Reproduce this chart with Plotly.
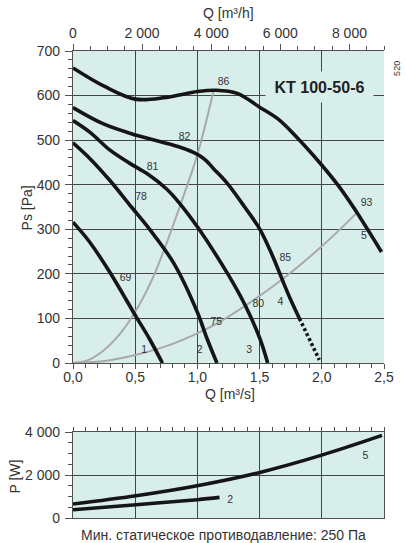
import numpy as np
import plotly.graph_objects as go

# ---------------- data ----------------
# fan curves  Q [m3/s] -> Ps [Pa]
c1_q = [0.0, 0.135, 0.295, 0.507, 0.613, 0.719]
c1_p = [316, 271, 204, 104, 55, 0]
c2_q = [0.0, 0.135, 0.295, 0.47, 0.613, 0.812, 0.998, 1.077, 1.157]
c2_p = [494, 459, 410, 350, 301, 223, 115, 55, 0]
c3_q = [0.0, 0.135, 0.295, 0.45, 0.6, 0.75, 0.852, 1.011, 1.25, 1.383, 1.502, 1.565]
c3_p = [544, 518, 478, 449, 424, 391, 360, 301, 197, 130, 55, 0]
c4_q = [0.0, 0.24, 0.51, 0.85, 1.0, 1.07, 1.13, 1.24, 1.38, 1.5, 1.6, 1.685, 1.75, 1.82]
c4_p = [573, 537, 511, 485, 468, 454, 436, 403, 350, 301, 243, 185, 142, 100]
c4d_q = [1.82, 1.9, 1.98]
c4d_p = [100, 52, 7]
c5_q = [0.0, 0.25, 0.5, 0.75, 1.0, 1.15, 1.32, 1.5, 1.65, 1.81, 1.99, 2.13, 2.26, 2.48]
c5_p = [662, 621, 592, 596, 609, 612, 605, 574, 547, 503, 447, 399, 347, 249]

# system (efficiency) lines
s1_q = [0.0, 0.11, 0.241, 0.374, 0.494, 0.64, 0.746, 0.852, 0.998, 1.13]
s1_p = [0, 5, 27, 64, 112, 190, 264, 346, 466, 611]
s2_q = [0.0, 0.27, 0.533, 0.812, 1.077, 1.237, 1.383, 1.688, 1.993, 2.285]
s2_p = [0, 5, 20, 44, 77, 102, 128, 189, 260, 338]

# efficiency / curve labels
lab_text = ["86", "82", "81", "78", "69", "75", "80", "85", "93", "1", "2", "3", "4", "5"]
lab_q = [1.21, 0.897, 0.64, 0.547, 0.422, 1.152, 1.489, 1.706, 2.36, 0.573, 1.019, 1.417, 1.667, 2.338]
lab_p = [630, 506, 440, 371, 190, 91, 131, 234, 358, 29, 28, 28, 135, 283]

# power curves  Q [m3/s] -> P [W]
p5_q = [0.0, 0.507, 0.998, 1.502, 1.993, 2.484]
p5_w = [651, 1037, 1502, 2121, 2912, 3842]
p2_q = [0.0, 0.507, 0.998, 1.178]
p2_w = [386, 619, 851, 958]
plab_text = ["5", "2"]
plab_q = [2.35, 1.264]
plab_w = [2865, 805]

# ticks
xq_vals = [0.0, 0.5, 1.0, 1.5, 2.0, 2.5]
xq_text = ["0,0", "0,5", "1,0", "1,5", "2,0", "2,5"]
xh_vals = [0, 2000, 4000, 6000, 8000]
xh_text = ["0", "2 000", "4 000", "6 000", "8 000"]
yp_vals = [0, 100, 200, 300, 400, 500, 600, 700]
yp_text = ["0", "100", "200", "300", "400", "500", "600", "700"]
yw_vals = [0, 2000, 4000]
yw_text = ["0", "2 000", "4 000"]

# ---------------- style ----------------
BG = "#d8eeeb"
GRID = "#454545"
AX = "#505050"
TXT = "#333333"
FONT = "Liberation Sans, Arial, sans-serif"
W, H = 406, 543
ML, MR, MT, MB = 73, 19, 51, 25
PW, PH = W - ML - MR, H - MT - MB

def py(pix):  # pixel row -> paper y
    return (H - MB - pix) / PH

def px(pix):
    return (pix - ML) / PW

fig = go.Figure()
curve = dict(color="#151515", width=3.6, shape="spline", smoothing=1.0)
grey = dict(color="#a9a9a9", width=2, shape="spline", smoothing=1.0)

for q, p in [(s1_q, s1_p), (s2_q, s2_p)]:
    fig.add_trace(go.Scatter(x=q, y=p, mode="lines", line=grey, xaxis="x", yaxis="y",
                             hoverinfo="skip", showlegend=False))
for q, p in [(c1_q, c1_p), (c2_q, c2_p), (c3_q, c3_p), (c4_q, c4_p), (c5_q, c5_p)]:
    fig.add_trace(go.Scatter(x=q, y=p, mode="lines", line=curve, xaxis="x", yaxis="y",
                             showlegend=False))
fig.add_trace(go.Scatter(x=c4d_q, y=c4d_p, mode="lines",
                         line=dict(color="#151515", width=3.6, dash="3px,2.5px"),
                         xaxis="x", yaxis="y", showlegend=False))
fig.add_trace(go.Scatter(x=lab_q, y=lab_p, mode="text", text=lab_text,
                         textfont=dict(size=10.5, color=TXT, family=FONT),
                         xaxis="x", yaxis="y", showlegend=False))
# invisible carrier so the m3/h axis is drawn
fig.add_trace(go.Scatter(x=[xh_vals[0], xh_vals[-1]], y=[0, 0], mode="markers",
                         marker=dict(opacity=0), xaxis="x2", yaxis="y",
                         hoverinfo="skip", showlegend=False))

for q, w in [(p5_q, p5_w), (p2_q, p2_w)]:
    fig.add_trace(go.Scatter(x=q, y=w, mode="lines", line=curve, xaxis="x3", yaxis="y2",
                             showlegend=False))
fig.add_trace(go.Scatter(x=plab_q, y=plab_w, mode="text", text=plab_text,
                         textfont=dict(size=10.5, color=TXT, family=FONT),
                         xaxis="x3", yaxis="y2", showlegend=False))

tickfont = dict(size=14, color=TXT, family=FONT)
main_dom = [py(363), 1.0]
sub_dom = [0.0, py(432)]

fig.update_layout(
    width=W, height=H,
    margin=dict(l=ML, r=MR, t=MT, b=MB),
    paper_bgcolor="white", plot_bgcolor=BG,
    font=dict(family=FONT, color=TXT),
    xaxis=dict(domain=[0, 1], range=[0, 2.5], anchor="y", side="bottom",
               tickmode="array", tickvals=xq_vals, ticktext=xq_text,
               ticks="outside", ticklen=5, tickwidth=1, tickcolor=AX,
               minor=dict(tickmode="array", tickvals=list(np.round(np.arange(0, 2.51, 0.1), 2)),
                          ticks="outside", ticklen=4, tickcolor=AX, showgrid=False),
               showline=True, linecolor=AX, linewidth=1.2,
               showgrid=True, gridcolor=GRID, gridwidth=1.2, zeroline=False,
               tickfont=tickfont, ticklabelstandoff=-4),
    xaxis2=dict(range=[0, 9000], overlaying="x", anchor="y", side="top",
                tickmode="array", tickvals=xh_vals, ticktext=xh_text,
                ticks="outside", ticklen=6, tickwidth=1, tickcolor=AX,
                minor=dict(tickmode="array", tickvals=list(range(0, 9001, 500)),
                           ticks="outside", ticklen=4, tickcolor=AX, showgrid=False),
                showline=True, linecolor=AX, linewidth=1.2,
                showgrid=False, zeroline=False, tickfont=tickfont, ticklabelstandoff=0),
    yaxis=dict(domain=main_dom, range=[0, 700], anchor="x",
               tickmode="array", tickvals=yp_vals, ticktext=yp_text,
               ticks="outside", ticklen=7, tickwidth=1, tickcolor=AX,
               minor=dict(tickmode="array", tickvals=list(range(0, 701, 20)),
                          ticks="outside", ticklen=4, tickcolor=AX, showgrid=False),
               showline=True, linecolor=AX, linewidth=1.2,
               showgrid=True, gridcolor=GRID, gridwidth=1.2, zeroline=False,
               tickfont=tickfont, ticklabelstandoff=2),
    xaxis3=dict(domain=[0, 1], range=[0, 2.5], anchor="y2", side="top",
                tickmode="array", tickvals=xq_vals, showticklabels=False,
                ticks="outside", ticklen=4, tickwidth=1, tickcolor=AX,
                minor=dict(tickmode="array", tickvals=list(np.round(np.arange(0, 2.51, 0.1), 2)),
                           ticks="outside", ticklen=4, tickcolor=AX, showgrid=False),
                showline=True, mirror=True, linecolor=AX, linewidth=1.2,
                showgrid=True, gridcolor=GRID, gridwidth=1.2, zeroline=False),
    yaxis2=dict(domain=sub_dom, range=[0, 4000], anchor="x3",
                tickmode="array", tickvals=yw_vals, ticktext=yw_text,
                ticks="outside", ticklen=7, tickwidth=1, tickcolor=AX,
                minor=dict(tickmode="array", tickvals=list(range(0, 4001, 500)),
                           ticks="outside", ticklen=4, tickcolor=AX, showgrid=False),
                showline=True, mirror=True, linecolor=AX, linewidth=1.2,
                showgrid=True, gridcolor=GRID, gridwidth=1.2, zeroline=False,
                tickfont=tickfont, ticklabelstandoff=2),
)

ann = [
    dict(text="Q [m³/h]", x=px(230), y=py(13), font=dict(size=14)),
    dict(text="Q [m³/s]", x=px(232), y=py(394), font=dict(size=14)),
    dict(text="Ps [Pa]", x=px(27), y=py(208), font=dict(size=14), textangle=-90),
    dict(text="P [W]", x=px(14), y=py(477), font=dict(size=14), textangle=-90),
    dict(text="520", x=px(400), y=py(68), font=dict(size=9), textangle=-90),
    dict(text="Мин. статическое противодавление: 250 Па", x=px(79), y=py(535),
         xanchor="left", font=dict(size=14)),
    dict(text="<b>KT 100-50-6</b>", x=px(321.5), y=py(87), font=dict(size=16, color="#222222"),
         bgcolor=BG, width=107, height=30, borderpad=0),
]
for a in ann:
    a.setdefault("xanchor", "center")
    a.setdefault("yanchor", "middle")
    a["font"].setdefault("color", TXT)
    a["font"]["family"] = FONT
    fig.add_annotation(xref="paper", yref="paper", showarrow=False, **a)

fig.write_html("out.html")
